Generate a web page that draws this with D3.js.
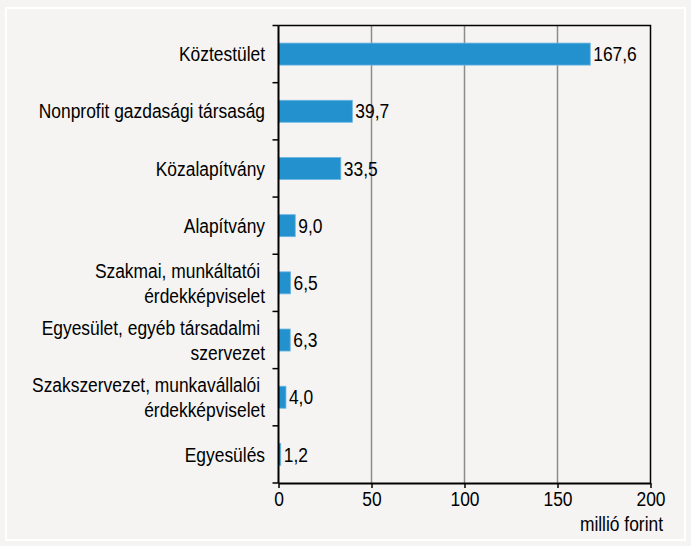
<!DOCTYPE html>
<html>
<head>
<meta charset="utf-8">
<script src="https://cdn.jsdelivr.net/npm/d3@7"></script>
<style>
body { margin: 0; background: #f5f4f2; }
text { font-family: "Liberation Sans", Arial, sans-serif; }
</style>
</head>
<body>
<script>
let width = 691
let height = 546

// categories (top to bottom), label lines
let categories = [
  ["Köztestület"],
  ["Nonprofit gazdasági társaság"],
  ["Közalapítvány"],
  ["Alapítvány"],
  ["Szakmai, munkáltatói\u00a0", "érdekképviselet"],
  ["Egyesület, egyéb társadalmi\u00a0", "szervezet"],
  ["Szakszervezet, munkavállalói\u00a0", "érdekképviselet"],
  ["Egyesülés"]
]
let values = [167.6, 39.7, 33.5, 9.0, 6.5, 6.3, 4.0, 1.2]
let xTicks = [0, 50, 100, 150, 200]
let unit = "millió forint"

let plotLeft = 278.5
let plotRight = 650.5
let plotTop = 25.5
let plotBottom = 483

let fontSize = 20
let squeeze = 0.87   // narrow look of the original font

let svg = d3.select("body")
  .append("svg")
  .attr("width", width)
  .attr("height", height)

svg.append("rect")
  .attr("width", width).attr("height", height)
  .attr("fill", "#f5f4f2")

// white frame
svg.append("rect")
  .attr("x", 6).attr("y", 8)
  .attr("width", 679).attr("height", 532)
  .attr("fill", "none")
  .attr("stroke", "#ffffff")
  .attr("stroke-width", 2)

let x = d3.scaleLinear().domain([0, 200]).range([plotLeft, plotRight])
let y = d3.scaleBand().domain(d3.range(categories.length)).range([plotTop, plotBottom])

// gridlines
svg.selectAll(".grid")
  .data(xTicks.slice(1, -1))
  .join("line")
  .attr("x1", d => x(d)).attr("x2", d => x(d))
  .attr("y1", plotTop).attr("y2", plotBottom)
  .attr("stroke", "#8c8c8c")
  .attr("stroke-width", 1.5)

// top and right frame
svg.append("path")
  .attr("d", `M${plotLeft},${plotTop}H${plotRight}V${plotBottom}`)
  .attr("fill", "none")
  .attr("stroke", "#000")
  .attr("stroke-width", 1.5)

// bars
let barH = 22
svg.selectAll(".bar")
  .data(values)
  .join("rect")
  .attr("x", x(0))
  .attr("y", (d, i) => y(i) + y.bandwidth() / 2 - barH / 2)
  .attr("width", d => x(d) - x(0))
  .attr("height", barH)
  .attr("fill", "#2391cd")
  .attr("stroke", "#6bb6e3")
  .attr("stroke-width", 0.8)

// value labels
svg.selectAll(".val")
  .data(values)
  .join("text")
  .attr("transform", (d, i) => `translate(${x(d) + 3},${y(i) + y.bandwidth() / 2}) scale(${squeeze},1)`)
  .attr("dy", "0.36em")
  .attr("font-size", fontSize)
  .attr("fill", "#000")
  .text(d => d.toFixed(1).replace(".", ","))

// category ticks at band boundaries
let bounds = d3.range(categories.length + 1).map(i => plotTop + i * y.step())
svg.selectAll(".ytick")
  .data(bounds)
  .join("line")
  .attr("x1", plotLeft - 6).attr("x2", plotLeft)
  .attr("y1", d => d).attr("y2", d => d)
  .attr("stroke", "#000")
  .attr("stroke-width", 1.5)

svg.append("line")
  .attr("x1", plotLeft).attr("x2", plotLeft)
  .attr("y1", plotTop).attr("y2", plotBottom)
  .attr("stroke", "#000")
  .attr("stroke-width", 2)

// category labels
let lineH = 25
let labels = svg.selectAll(".cat")
  .data(categories)
  .join("text")
  .attr("text-anchor", "end")
  .attr("transform", `translate(${plotLeft - 13.5},0) scale(${squeeze},1)`)
  .attr("font-size", fontSize)
  .attr("fill", "#000")
  .style("white-space", "pre")
labels.each(function(lines, i) {
  let cy = y(i) + y.bandwidth() / 2 - (lines.length - 1) * lineH / 2
  d3.select(this).selectAll("tspan")
    .data(lines)
    .join("tspan")
    .attr("x", 0)
    .attr("y", (d, k) => cy + k * lineH)
    .attr("dy", "0.36em")
    .text(d => d)
})

// x axis
let xAxis = d3.axisBottom(x).tickValues(xTicks).tickSize(5).tickSizeOuter(0)
svg.append("g")
  .attr("transform", `translate(0,${plotBottom})`)
  .call(xAxis)
  .call(g => g.select(".domain").attr("stroke-width", 2))
  .call(g => g.selectAll(".tick line").attr("stroke-width", 1.5))
  .call(g => g.selectAll(".tick text")
    .attr("font-size", fontSize)
    .attr("font-family", null)
    .attr("fill", "#000")
    .attr("transform", `scale(${squeeze},1)`)
    .attr("y", 9))

svg.append("text")
  .attr("transform", `translate(663,531) scale(${squeeze},1)`)
  .attr("text-anchor", "end")
  .attr("font-size", fontSize)
  .text(unit)
</script>
</body>
</html>
